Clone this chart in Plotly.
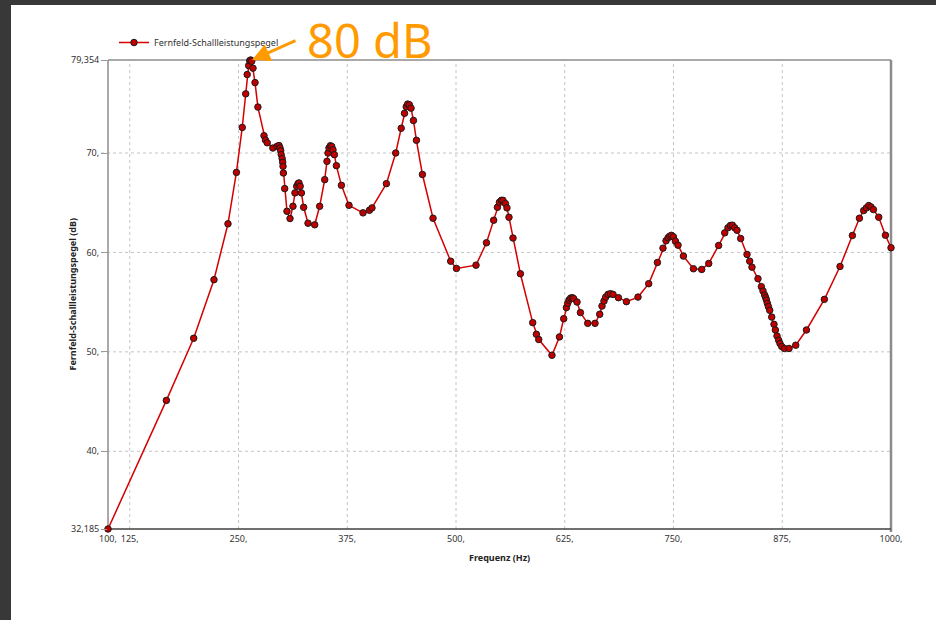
import plotly.graph_objects as go

# Far-field sound power level over frequency
freq_hz = [
    100.0, 167.1, 198.5, 221.8, 237.9, 247.6, 254.3, 258.3, 260.0, 261.7,
    262.9, 264.0, 265.2, 266.7, 269.0, 272.3, 279.3, 281.0, 283.0, 289.5,
    294.5, 296.6, 297.7, 298.5, 299.1, 300.2, 300.8, 301.2, 301.6, 303.1,
    305.7, 309.2, 312.6, 314.9, 316.9, 318.4, 319.5, 320.9, 322.3, 324.9,
    329.9, 337.6, 343.3, 349.1, 351.7, 352.9, 354.0, 355.6, 357.1, 358.6,
    360.2, 362.5, 368.3, 377.0, 393.1, 400.5, 403.4, 420.0, 430.7, 437.0,
    440.8, 442.8, 444.5, 446.4, 448.3, 451.1, 454.5, 461.4, 473.6, 493.9,
    500.5, 523.0, 535.0, 543.3, 547.6, 549.9, 552.2, 554.0, 556.8, 558.6,
    560.9, 565.5, 574.0, 588.2, 592.4, 595.1, 610.3, 618.9, 623.8, 626.9,
    628.4, 629.9, 631.8, 633.8, 635.3, 639.1, 643.0, 651.4, 659.8, 665.2,
    667.8, 670.1, 672.1, 674.7, 677.5, 680.5, 686.7, 695.9, 709.2, 721.5,
    731.5, 737.9, 741.4, 743.7, 745.6, 747.6, 749.9, 752.2, 755.2, 761.4,
    772.9, 782.4, 790.5, 801.9, 808.9, 812.6, 815.4, 817.7, 820.3, 823.0,
    827.2, 834.5, 837.6, 840.2, 847.1, 851.0, 852.9, 854.8, 856.0, 856.8,
    857.9, 859.1, 860.6, 862.9, 865.5, 867.1, 869.0, 870.9, 872.4, 874.4,
    877.5, 882.8, 890.5, 902.8, 923.4, 941.4, 955.6, 963.7, 968.6, 971.7,
    974.4, 977.0, 979.8, 985.9, 993.6, 1000.0,
]
level_db = [
    32.185, 45.12, 51.37, 57.26, 62.88, 68.05, 72.57, 75.95, 77.89, 78.79,
    79.29, 79.354, 79.23, 78.53, 77.08, 74.62, 71.74, 71.30, 71.03, 70.50,
    70.68, 70.75, 70.50, 70.23, 69.83, 69.43, 69.06, 68.66, 67.99, 66.42,
    64.14, 63.41, 64.64, 65.99, 66.65, 66.92, 66.99, 66.65, 65.99, 64.54,
    62.94, 62.78, 64.64, 67.32, 69.16, 70.00, 70.50, 70.73, 70.66, 70.33,
    69.83, 68.73, 66.75, 64.74, 63.98, 64.24, 64.48, 66.92, 70.00, 72.49,
    73.99, 74.65, 74.92, 74.85, 74.51, 73.27, 71.28, 67.84, 63.44, 59.12,
    58.39, 58.72, 60.97, 63.24, 64.54, 65.04, 65.24, 65.24, 64.91, 64.48,
    63.54, 61.45, 57.86, 52.94, 51.77, 51.24, 49.66, 51.50, 53.34, 54.45,
    54.88, 55.21, 55.41, 55.45, 55.35, 55.01, 53.95, 52.87, 52.87, 53.78,
    54.61, 55.11, 55.51, 55.78, 55.85, 55.78, 55.45, 55.05, 55.51, 56.86,
    58.99, 60.43, 61.17, 61.47, 61.63, 61.72, 61.57, 61.13, 60.73, 59.63,
    58.36, 58.29, 58.89, 60.70, 61.97, 62.48, 62.71, 62.74, 62.48, 62.23,
    61.40, 59.80, 59.12, 58.52, 57.36, 56.56, 56.11, 55.71, 55.45, 55.21,
    54.88, 54.55, 54.18, 53.50, 52.77, 52.20, 51.60, 51.17, 50.84, 50.54,
    50.34, 50.34, 50.67, 52.20, 55.28, 58.59, 61.70, 63.44, 64.21, 64.48,
    64.71, 64.58, 64.31, 63.54, 61.73, 60.47,
]

x_tickvals = [100, 125, 250, 375, 500, 625, 750, 875, 1000]
x_ticktext = ["100,", "125,", "250,", "375,", "500,", "625,", "750,", "875,", "1000,"]
y_tickvals = [32.185, 40, 50, 60, 70, 79.354]
y_ticktext = ["32,185", "40,", "50,", "60,", "70,", "79,354"]
x_gridvals = [125, 250, 375, 500, 625, 750, 875]
y_gridvals = [40, 50, 60, 70]

series_name = "Fernfeld-Schallleistungspegel"
x_title = "Frequenz (Hz)"
y_title = "Fernfeld-Schallleistungspegel (dB)"
callout_text = "80 dB"

W, H = 936, 620
L, R, T, B = 108, 45, 60, 91
PW, PH = W - L - R, H - T - B


def px_x(p):
    return (p - L) / PW


def px_y(p):
    return (H - B - p) / PH


FONT = "Noto Sans, Open Sans, DejaVu Sans, sans-serif"
ORANGE = "#FF9A00"

fig = go.Figure()
fig.add_trace(go.Scatter(
    x=freq_hz, y=level_db, mode="lines+markers", name=series_name,
    cliponaxis=False,
    line=dict(color="#D40000", width=1.5),
    marker=dict(size=6.5, color="#C00000", line=dict(color="#1a1a1a", width=1)),
))

shapes = []
# dashed grid
for gx in x_gridvals:
    shapes.append(dict(type="line", xref="x", yref="paper", x0=gx, x1=gx, y0=0, y1=1,
                       line=dict(color="#c4c4c4", width=1, dash="3px,3px"), layer="below"))
for gy in y_gridvals:
    shapes.append(dict(type="line", xref="paper", yref="y", x0=px_x(101), x1=1, y0=gy, y1=gy,
                       line=dict(color="#c4c4c4", width=1, dash="3px,3px"), layer="below"))
# frame
shapes.append(dict(type="line", xref="paper", yref="paper", x0=0, x1=1, y0=1, y1=1,
                   line=dict(color="#8c8c8c", width=1.5), layer="below"))
shapes.append(dict(type="line", xref="paper", yref="paper", x0=1, x1=1, y0=px_y(532), y1=1,
                   line=dict(color="#8c8c8c", width=2.5), layer="below"))
shapes.append(dict(type="line", xref="paper", yref="paper", x0=0, x1=0, y0=0, y1=1,
                   line=dict(color="#8c8c8c", width=1.5), layer="below"))
shapes.append(dict(type="line", xref="paper", yref="paper", x0=0, x1=1, y0=0, y1=0,
                   line=dict(color="#404040", width=1.5), layer="below"))
# window border
shapes.append(dict(type="rect", xref="paper", yref="paper", x0=px_x(0), x1=px_x(W),
                   y0=px_y(5), y1=px_y(0), fillcolor="#383838", line=dict(width=0)))
shapes.append(dict(type="rect", xref="paper", yref="paper", x0=px_x(0), x1=px_x(11),
                   y0=px_y(H), y1=px_y(0), fillcolor="#383838", line=dict(width=0)))

annotations = [
    dict(text=callout_text, xref="paper", yref="paper", x=px_x(369), y=px_y(40),
         xanchor="center", yanchor="middle", showarrow=False,
         font=dict(family=FONT, size=47, color=ORANGE)),
    dict(text="", xref="x", yref="y", x=265.5, y=79.354, ax=45, ay=-20,
         showarrow=True, arrowhead=2, arrowsize=1.2, arrowwidth=3, arrowcolor=ORANGE),
    dict(text=f"<b>{x_title}</b>", xref="paper", yref="paper", x=0.5, y=px_y(557),
         xanchor="center", yanchor="middle", showarrow=False,
         font=dict(family=FONT, size=9, color="#222")),
    dict(text=f"<b>{y_title}</b>", xref="paper", yref="paper", x=px_x(72), y=0.5,
         xanchor="center", yanchor="middle", showarrow=False, textangle=-90,
         font=dict(family=FONT, size=9, color="#222")),
]

fig.update_layout(
    width=W, height=H,
    margin=dict(l=L, r=R, t=T, b=B),
    paper_bgcolor="white", plot_bgcolor="white",
    font=dict(family=FONT, size=9, color="#333"),
    showlegend=True,
    legend=dict(x=px_x(114), y=px_y(28), xanchor="left", yanchor="top",
                bgcolor="rgba(0,0,0,0)", font=dict(size=9, color="#333"),
                itemwidth=30),
    shapes=shapes,
    annotations=annotations,
    xaxis=dict(range=[100, 1000], tickvals=x_tickvals, ticktext=x_ticktext,
               showgrid=False, zeroline=False, showline=False, ticks="",
               ticklabelstandoff=3,
               tickfont=dict(size=9, color="#333")),
    yaxis=dict(range=[32.185, 79.354], tickvals=y_tickvals, ticktext=y_ticktext,
               showgrid=False, zeroline=False, showline=False,
               ticks="outside", ticklen=6, tickcolor="#999",
               tickfont=dict(size=9, color="#333")),
)

fig.write_html("out.html")
